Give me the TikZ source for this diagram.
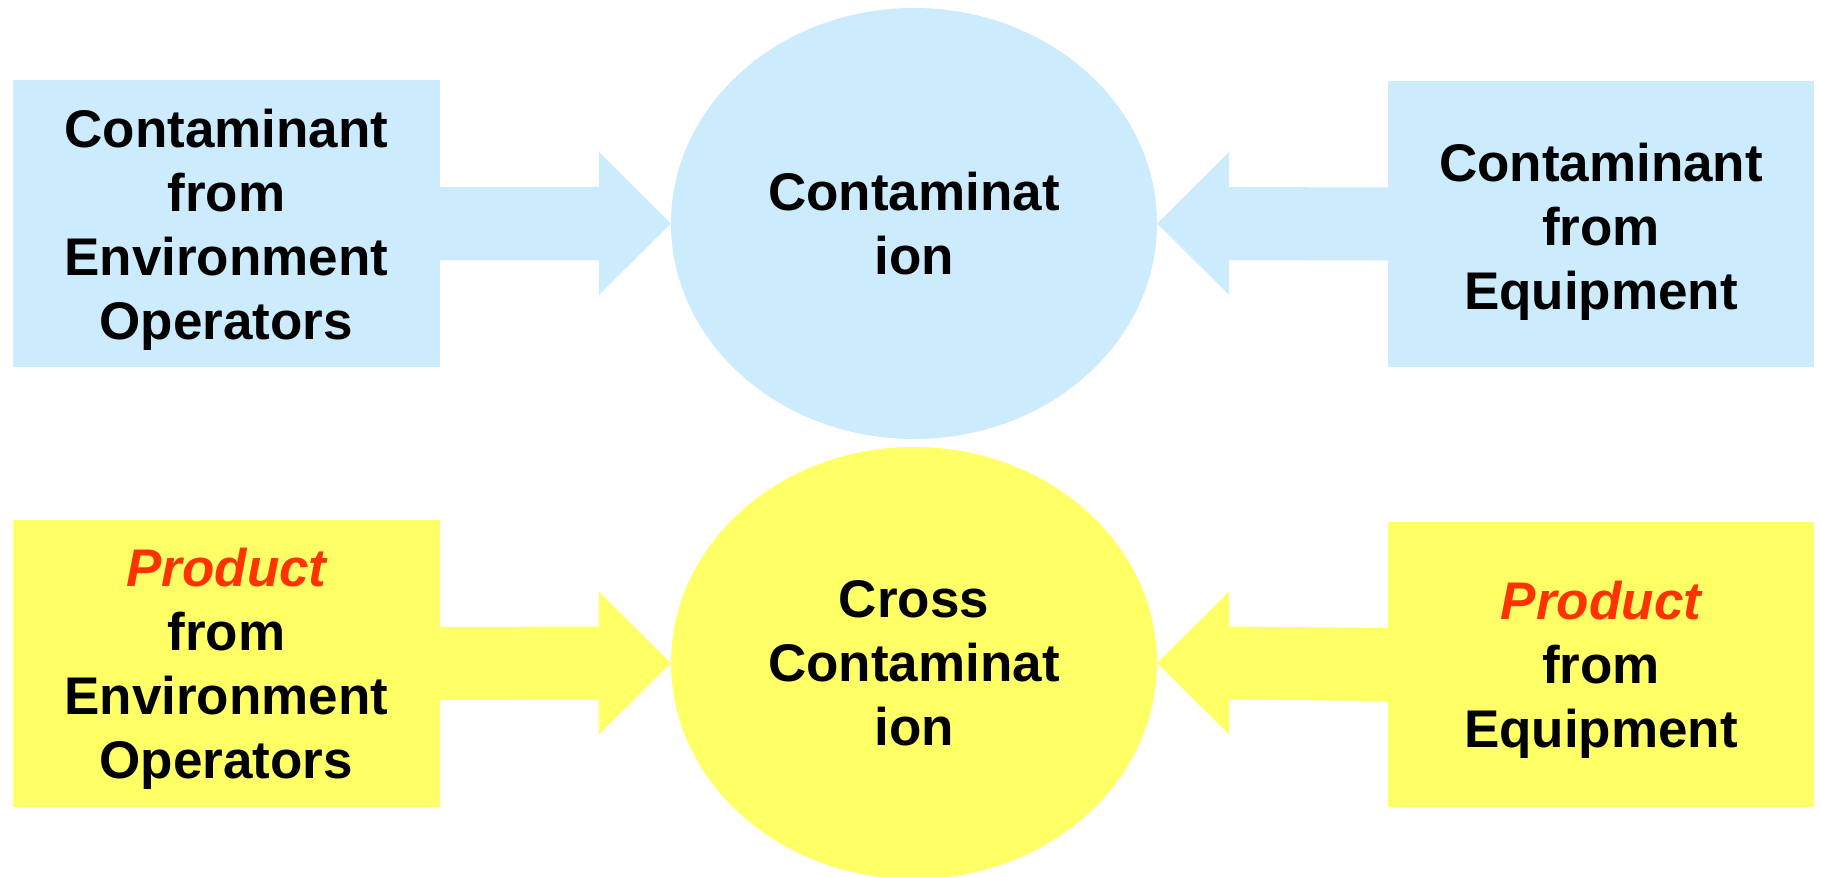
\documentclass[tikz,border=0pt]{standalone}
\usepackage{fontspec}
\setmainfont{Liberation Sans}
\usetikzlibrary{shapes.geometric,calc}
\definecolor{cblue}{HTML}{CCEBFC}
\definecolor{cyel}{HTML}{FFFF66}
\definecolor{cred}{HTML}{FF3300}
\tikzset{
  lbl/.style={font=\fontsize{53}{64}\selectfont\bfseries, align=center, text=black, inner sep=0pt},
  boxL/.style={rectangle, inner sep=0pt, minimum width=427pt, minimum height=287pt},
  ell/.style={lbl, ellipse, minimum width=486pt, minimum height=431pt},
}
\newcommand{\prodword}{\textcolor{cred}{\itshape Product}}
\begin{document}
\begin{tikzpicture}[x=1pt,y=-1pt]
\useasboundingbox (0,0) rectangle (1821,876);
% top row
\node[boxL, fill=cblue] (L1) at (226.4,223.5) {};
\node[lbl] (L1t) at ($(L1.center)+(0,6)$) {Contaminant\\from\\Environment\\Operators};
\node[boxL, fill=cblue, minimum width=426pt, minimum height=286pt] (R1) at (1601,224) {};
\node[lbl] (R1t) at ($(R1.center)+(0,8)$) {Contaminant\\from\\Equipment};
\node[ell, fill=cblue] (E1) at (914,223.5) {Contaminat\\ion};
% bottom row
\node[boxL, fill=cyel] (L2) at (226.4,663.5) {};
\node[lbl] (L2t) at ($(L2.center)+(0,5)$) {\prodword\\from\\Environment\\Operators};
\node[boxL, fill=cyel, minimum width=426pt, minimum height=285pt] (R2) at (1601,664.5) {};
\node[lbl] (R2t) at ($(R2.center)+(0,5)$) {\prodword\\from\\Equipment};
\node[ell, fill=cyel, minimum height=432pt] (E2) at (914,663) {Cross\\Contaminat\\ion};
% arrows
\foreach \b/\e/\c in {L1/E1/cblue, L2/E2/cyel}{
  \fill[\c] ($(\b.east)+(-1,-36.5)$) -- ($(\e.west)+(-72,-36.5)$) -- ($(\e.west)+(-72,-71.5)$)
    -- (\e.west) -- ($(\e.west)+(-72,71.5)$) -- ($(\e.west)+(-72,36.5)$) -- ($(\b.east)+(-1,36.5)$) -- cycle;
}
\foreach \b/\e/\c in {R1/E1/cblue, R2/E2/cyel}{
  \fill[\c] ($(\b.west)+(1,-36.5)$) -- ($(\e.east)+(72,-36.5)$) -- ($(\e.east)+(72,-71.5)$)
    -- (\e.east) -- ($(\e.east)+(72,71.5)$) -- ($(\e.east)+(72,36.5)$) -- ($(\b.west)+(1,36.5)$) -- cycle;
}
\end{tikzpicture}
\end{document}
